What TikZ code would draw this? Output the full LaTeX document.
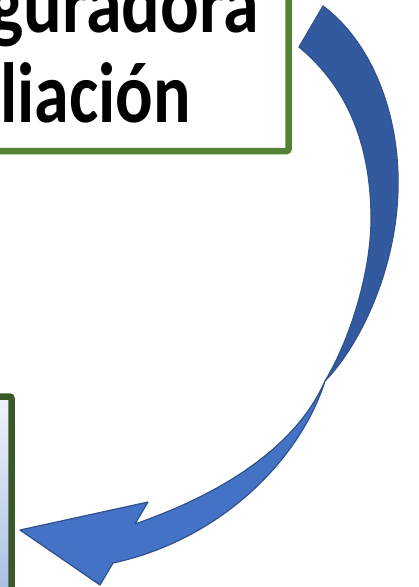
\documentclass[tikz,border=0pt]{standalone}
\usepackage{fontspec}
\setmainfont{Carlito}
\definecolor{boxgreen}{HTML}{548235}
\definecolor{darkgreen}{HTML}{3B5828}
\definecolor{ribbonback}{HTML}{335A9E}
\definecolor{ribbonfront}{HTML}{4472C4}
\definecolor{ribbonline}{HTML}{2F528F}
\definecolor{fadetop}{HTML}{F0F3FA}
\definecolor{fadebottom}{HTML}{A6BCE4}
\begin{document}
\begin{tikzpicture}[x=1pt, y=-1pt,
    label text/.style={font=\fontsize{70}{84}\selectfont\bfseries, inner sep=0pt},
    ribbon/.style={draw=ribbonline, line width=1.2pt, line join=round}]

    \useasboundingbox (0,0) rectangle (419,587);
    \clip (0,0) rectangle (419,587);

    %% Upper box (cut by the page)
    \draw[boxgreen, line width=6.5pt, rounded corners=2pt, fill=white] (-200,-100) rectangle (288.5,151);
    \node[label text, anchor=base east] (lineone) at (259,32) {\scalebox{1.03}[1.22]{guradora}};
    \node[label text, anchor=base east] (linetwo) at (191,122) {\scalebox{1}[1.22]{liación}};

    %% Lower box (cut by the page)
    \draw[darkgreen, line width=6.5pt, rounded corners=2pt, top color=fadetop, bottom color=fadebottom] (-200,396.5) rectangle (11.5,600);

    %% Curved arrow
    % back strip
    \draw[ribbon, fill=ribbonback] (323,6) .. controls (375,45) and (400,120) .. (398,190)
        .. controls (396,270) and (360,345) .. (325,381)
        .. controls (350,340) and (372,270) .. (371,215)
        .. controls (370,140) and (345,85) .. (299,47) -- cycle;

    % front strip with the head
    \draw[ribbon, fill=ribbonfront] (325,381) .. controls (300,438) and (238,488) .. (135,524)
        -- (148,502) -- (20,530) -- (100,585) -- (113,563)
        .. controls (220,540) and (300,460) .. (325,381) -- cycle;

\end{tikzpicture}
\end{document}
